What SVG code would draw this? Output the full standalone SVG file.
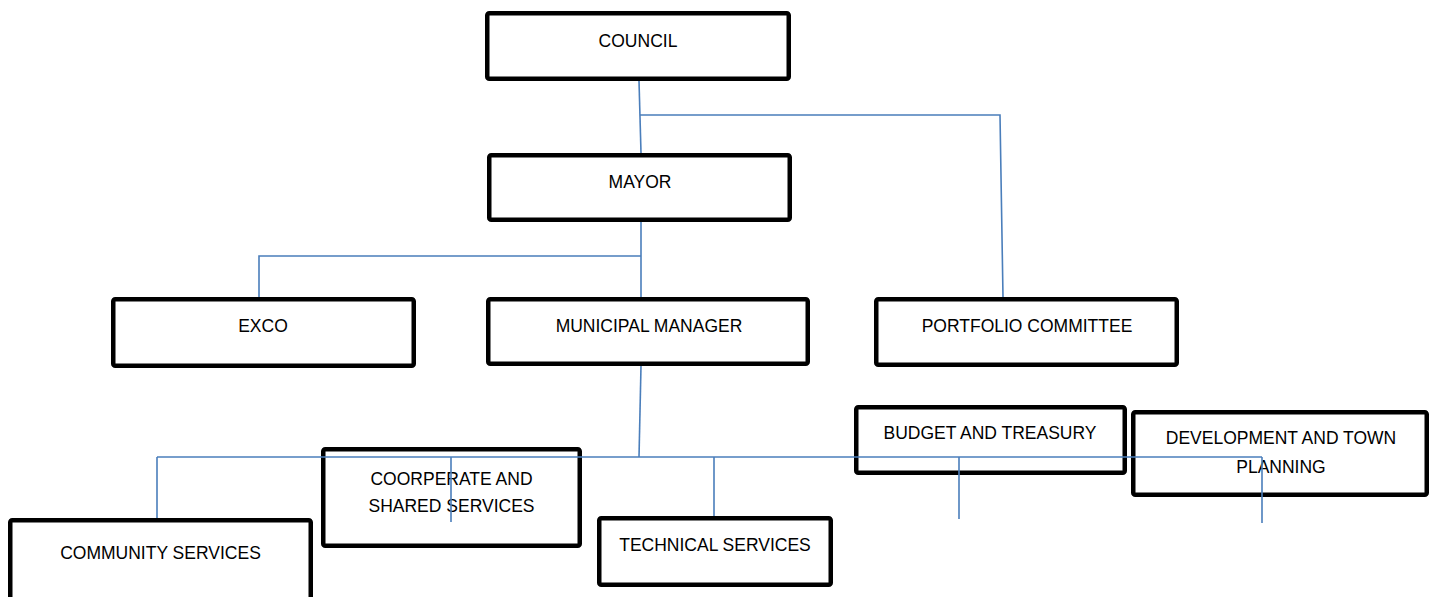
<svg xmlns="http://www.w3.org/2000/svg" width="1432" height="597" viewBox="0 0 1432 597">
<style>
.box{fill:#fff;stroke:#000;stroke-width:4.5;rx:2}
.lbl{font-family:"Liberation Sans",Arial,sans-serif;font-size:17.5px;fill:#000;text-anchor:middle}
.con{fill:none;stroke:#4a7ebb;stroke-width:1.6}
</style>
<rect width="1432" height="597" fill="#fff"/>
<g id="council"><rect class="box" x="487.25" y="13.25" width="301.5" height="65.5"/><text class="lbl" x="638" y="47">COUNCIL</text></g>
<g id="mayor"><rect class="box" x="489.25" y="155.25" width="300.5" height="64.5"/><text class="lbl" x="640" y="188">MAYOR</text></g>
<g id="exco"><rect class="box" x="113.25" y="299.25" width="300.5" height="66.5"/><text class="lbl" x="263" y="332">EXCO</text></g>
<g id="municipal-manager"><rect class="box" x="488.25" y="299.25" width="319.5" height="64.5"/><text class="lbl" x="649" y="332">MUNICIPAL MANAGER</text></g>
<g id="portfolio-committee"><rect class="box" x="876.25" y="299.25" width="300.5" height="65.5"/><text class="lbl" x="1027" y="332">PORTFOLIO COMMITTEE</text></g>
<g id="budget-treasury"><rect class="box" x="856.25" y="407.25" width="268.5" height="65.5"/><text class="lbl" x="990" y="439">BUDGET AND TREASURY</text></g>
<g id="development-town-planning"><rect class="box" x="1133.25" y="412.25" width="293.5" height="82.5"/><text class="lbl" x="1281" y="444">DEVELOPMENT AND TOWN</text><text class="lbl" x="1281" y="473">PLANNING</text></g>
<g id="coorperate-shared-services"><rect class="box" x="323.25" y="449.25" width="256.5" height="96.5"/><text class="lbl" x="451.5" y="485">COORPERATE AND</text><text class="lbl" x="451.5" y="512">SHARED SERVICES</text></g>
<g id="technical-services"><rect class="box" x="599.25" y="518.25" width="231.5" height="66.5"/><text class="lbl" x="715" y="551">TECHNICAL SERVICES</text></g>
<g id="community-services"><rect class="box" x="10.25" y="520.25" width="300.5" height="90"/><text class="lbl" x="160.5" y="559">COMMUNITY SERVICES</text></g>
<g id="connectors">
<path class="con" d="M639,81 L641,153"/>
<path class="con" d="M640,115 L1000,115 L1003,297"/>
<path class="con" d="M641,222 L641,297"/>
<path class="con" d="M641,256 L259,256 L259,297"/>
<path class="con" d="M641,366 L639,457"/>
<path class="con" d="M157,457 L1262,457"/>
<path class="con" d="M157,457 V518"/>
<path class="con" d="M451,457 V522"/>
<path class="con" d="M714,457 V516"/>
<path class="con" d="M959,457 V519"/>
<path class="con" d="M1262,457 V523"/>
</g>
</svg>
